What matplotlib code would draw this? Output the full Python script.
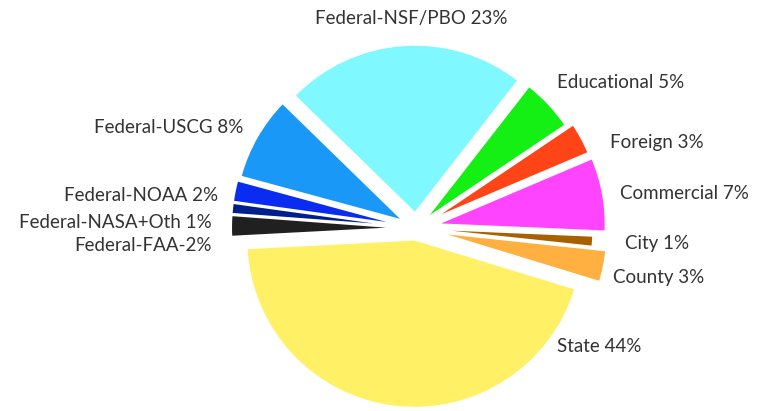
import matplotlib.pyplot as plt

# funding sources, going counterclockwise from the left edge of State
labels = ['State 44%', 'County 3%', 'City 1%', 'Commercial 7%', 'Foreign 3%',
          'Educational 5%', 'Federal-NSF/PBO 23%', 'Federal-USCG 8%',
          'Federal-NOAA 2%', 'Federal-NASA+Oth 1%', 'Federal-FAA-2%']
shares = [44, 3, 1, 7, 3, 5, 23, 8, 2, 1, 2]
colors = ['#FFF066', '#FFB040', '#A86000', '#FF44FF', '#FF4418', '#14F014',
          '#80F8FF', '#1A98F8', '#0A2CF0', '#001E8C', '#202020']
explode = [0.07, 0.14, 0.055, 0.13, 0.12, 0.08, 0.09, 0.09, 0.1, 0.1, 0.1]

# label placement in pixels (x, y from top, alignment)
label_pos = [(557, 347, 'left'), (613, 278, 'left'), (625, 243, 'left'),
             (620, 193, 'left'), (610, 142, 'left'), (557, 82, 'left'),
             (411, 18, 'center'), (243, 127, 'right'), (218, 195, 'right'),
             (212, 222, 'right'), (212, 245, 'right')]

W, H = 760, 411
R = 168
fig = plt.figure(figsize=(W / 100, H / 100), dpi=100)
ax = fig.add_axes([0, 0, 1, 1])

# matplotlib's explode is in data units, so scale by the radius
ax.pie(shares, colors=colors, explode=[e * R for e in explode], startangle=183,
       center=(416, H - 228), radius=R, frame=True,
       wedgeprops=dict(edgecolor='white', linewidth=1.2))
ax.set_xlim(0, W)
ax.set_ylim(0, H)
ax.set_aspect('equal')
ax.axis('off')

for lab, (x, y, ha) in zip(labels, label_pos):
    ax.text(x, H - y, lab, ha=ha, va='center', fontsize=13.5,
            family='Lato', color='#333333')

fig.savefig('out.png', dpi=100)
